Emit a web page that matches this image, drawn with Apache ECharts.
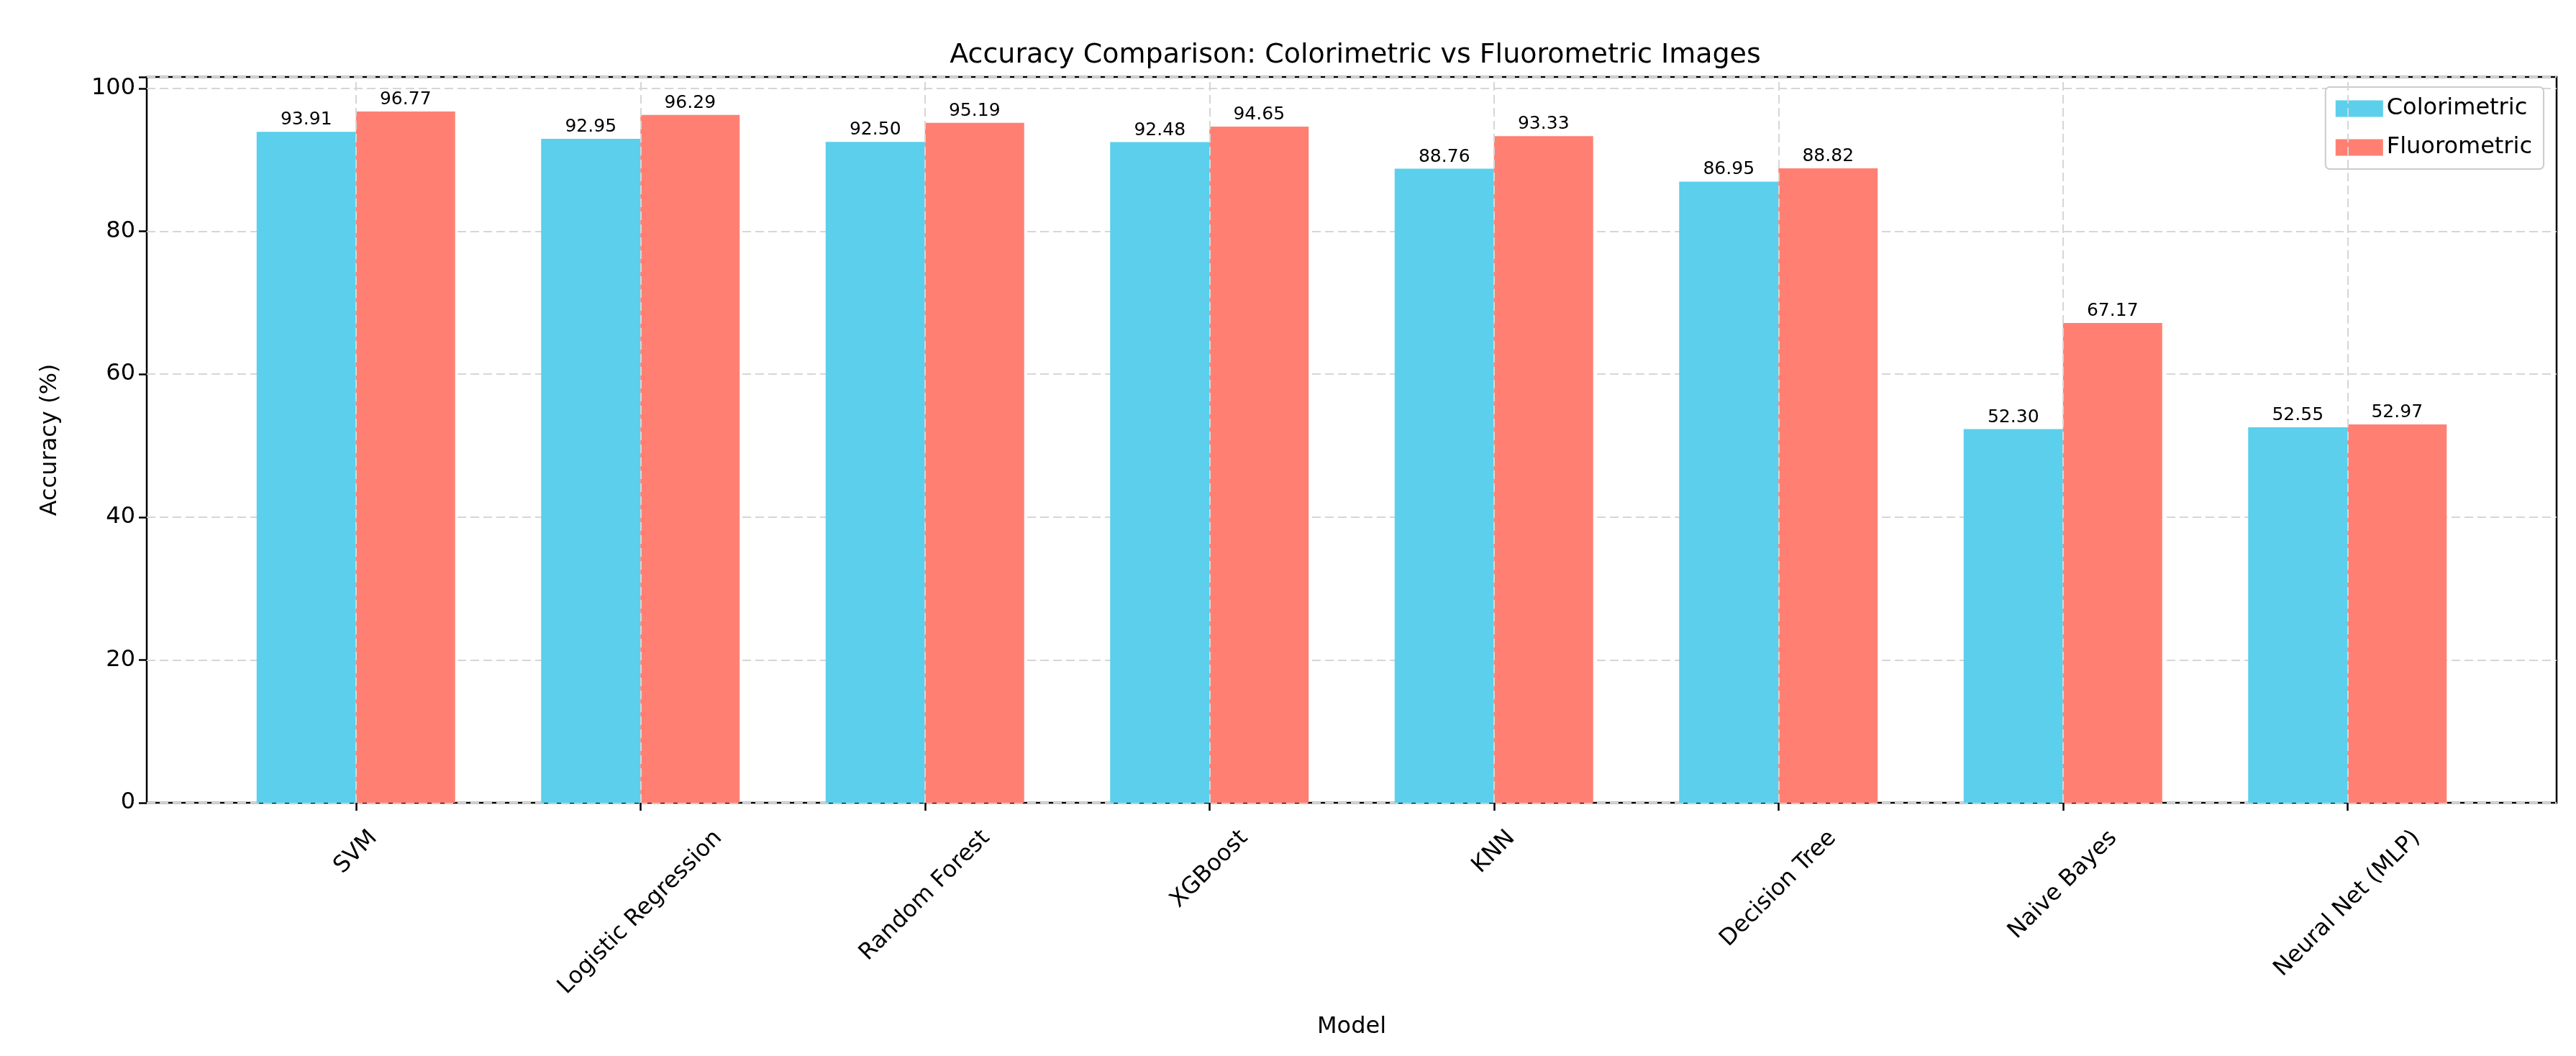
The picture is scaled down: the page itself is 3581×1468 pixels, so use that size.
<!DOCTYPE html>
<html><head><meta charset="utf-8">
<script src="https://cdn.jsdelivr.net/npm/echarts@6/dist/echarts.min.js"></script>
<style>html,body{margin:0;padding:0;background:#fff}#c{width:3581px;height:1468px}</style>
</head><body><div id="c"></div>
<script>
const categories = ['SVM','Logistic Regression','Random Forest','XGBoost','KNN','Decision Tree','Naive Bayes','Neural Net (MLP)'];
const colorimetric = [93.91,92.95,92.50,92.48,88.76,86.95,52.30,52.55];
const fluorometric = [96.77,96.29,95.19,94.65,93.33,88.82,67.17,52.97];
const yTicks = [0,20,40,60,80,100];

const FONT = 'DejaVu Sans';
const cv = document.createElement('canvas').getContext('2d');
cv.font = '32px "' + FONT + '"';

const chart = echarts.init(document.getElementById('c'), null, {renderer:'canvas'});
chart.setOption({
  backgroundColor:'#fff',
  animation:false,
  textStyle:{fontFamily:FONT,color:'#000'},
  title:{text:'Accuracy Comparison: Colorimetric vs Fluorometric Images',left:1879,top:53,textAlign:'center',
    textStyle:{fontSize:38,fontWeight:'normal',color:'#000',fontFamily:FONT}},
  legend:{data:['Colorimetric','Fluorometric'],orient:'vertical',right:45,top:121,itemWidth:66,itemHeight:23,itemGap:22,
    padding:[14,16,14,14],borderColor:'#cccccc',borderWidth:2,borderRadius:6,backgroundColor:'#fff',
    textStyle:{fontSize:32,fontFamily:FONT,color:'#000'},icon:'rect'},
  grid:[
    {left:204,right:27,top:107,bottom:352,show:true,borderColor:'#000',borderWidth:2.5,backgroundColor:'transparent'},
    {left:297,right:120,top:107,bottom:352}
  ],
  xAxis:[
    {type:'value',gridIndex:0,min:0,max:1,axisLine:{show:false},axisTick:{show:false},axisLabel:{show:false},splitLine:{show:false},
     name:'Model',nameLocation:'middle',nameGap:296,nameTextStyle:{fontSize:32,fontFamily:FONT,color:'#000'}},
    {type:'category',gridIndex:1,data:categories,axisLine:{show:false},
     axisTick:{show:true,alignWithLabel:true,length:11,lineStyle:{color:'#000',width:2.5}},
     axisLabel:{show:false},splitLine:{show:false}}
  ],
  yAxis:[
    {type:'value',gridIndex:0,min:0,max:101.6,interval:20,
     axisLine:{show:false},axisTick:{show:true,length:11,lineStyle:{color:'#000',width:2.5}},
     axisLabel:{fontSize:32,color:'#000',fontFamily:FONT,margin:16,
       formatter:v=>yTicks.indexOf(v)>=0?String(v):''},
     splitLine:{show:true,lineStyle:{color:'#d6d6d6',type:[12,6],width:2}},
     name:'Accuracy (%)',nameLocation:'middle',nameGap:118,nameTextStyle:{fontSize:32,fontFamily:FONT,color:'#000'}},
    {type:'value',gridIndex:1,min:0,max:101.6,show:false}
  ],
  series:[
    {type:'line',xAxisIndex:1,yAxisIndex:1,data:[],z:0,silent:true,
     markLine:{silent:true,symbol:'none',label:{show:false},lineStyle:{color:'#d6d6d6',type:[12,6],width:2},
       data:categories.map(c=>({xAxis:c}))}},
    {name:'Colorimetric',type:'bar',xAxisIndex:1,yAxisIndex:1,data:colorimetric,barWidth:138,barGap:'0%',z:2,
     itemStyle:{color:'#5bcfeb'},
     label:{show:true,position:'top',distance:4,fontSize:25,color:'#000',fontFamily:FONT,formatter:p=>p.value.toFixed(2)}},
    {name:'Fluorometric',type:'bar',xAxisIndex:1,yAxisIndex:1,data:fluorometric,barWidth:138,barGap:'0%',z:2,
     itemStyle:{color:'#ff8073'},
     label:{show:true,position:'top',distance:4,fontSize:25,color:'#000',fontFamily:FONT,formatter:p=>p.value.toFixed(2)}},
    {type:'custom',xAxisIndex:1,yAxisIndex:1,data:categories.map((c,i)=>[i]),clip:false,silent:true,z:3,
     renderItem:function(params,api){
       const idx=api.value(0);
       const p=api.coord([idx,0]);
       const txt=categories[idx];
       const L=cv.measureText(txt).width;
       const h=37;
       const cy=p[1]+31+(L+h)*0.3536;
       return {type:'text',x:p[0],y:cy,rotation:Math.PI/4,
         style:{text:txt,fontSize:32,fontFamily:FONT,fill:'#000',align:'center',verticalAlign:'middle'}};
     }}
  ]
});
</script></body></html>
